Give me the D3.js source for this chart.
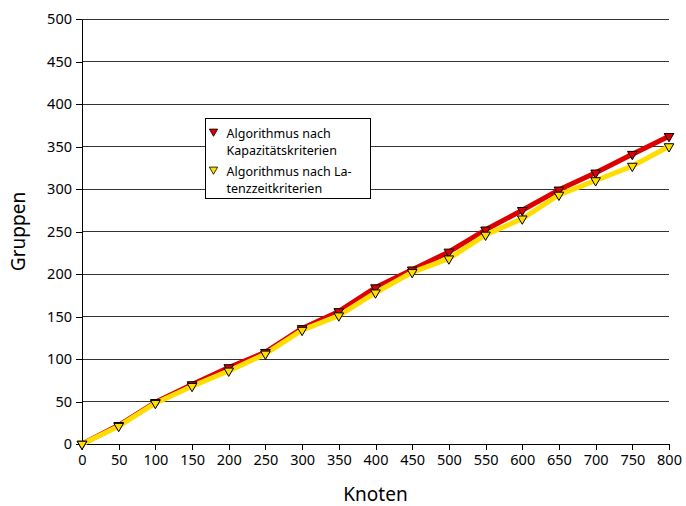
<!DOCTYPE html>
<html>
<head>
<meta charset="utf-8">
<script src="https://cdn.jsdelivr.net/npm/d3@7"></script>
<style>
  html, body { margin: 0; padding: 0; background: #fff; }
  svg { display: block; font-family: "Noto Sans", "DejaVu Sans", sans-serif; }
</style>
</head>
<body>
<svg id="chart" width="686" height="506"></svg>
<script>
// Anzahl der Knoten (x) und gebildete Gruppen (y) je Algorithmus
const knoten = [0, 50, 100, 150, 200, 250, 300, 350, 400, 450, 500, 550, 600, 650, 700, 750, 800];
const kapazitaet = [0, 22, 49, 70, 90, 108, 136, 156, 184, 205, 226, 252, 275, 299, 319, 341, 362];
const latenzzeit = [0, 21, 48, 68, 86, 106, 134, 151, 178, 202, 218, 246, 265, 293, 310, 327, 350];
const xTicks = [0, 50, 100, 150, 200, 250, 300, 350, 400, 450, 500, 550, 600, 650, 700, 750, 800];
const yTicks = [0, 50, 100, 150, 200, 250, 300, 350, 400, 450, 500];
const legendLines = [
  ["Algorithmus nach", "Kapazitätskriterien"],
  ["Algorithmus nach La-", "tenzzeitkriterien"]
];

const svg = d3.select("#chart");
const margin = { left: 82, right: 17, top: 19, bottom: 62 };
const W = 686, H = 506;

const x = d3.scaleLinear().domain([0, 800]).range([margin.left, W - margin.right]);
const y = d3.scaleLinear().domain([0, 500]).range([H - margin.bottom, margin.top]);

// Gitterlinien
svg.append("g")
  .selectAll("line")
  .data(yTicks.filter(d => d > 0))
  .join("line")
  .attr("x1", x(0)).attr("x2", x(800))
  .attr("y1", d => y(d)).attr("y2", d => y(d))
  .attr("stroke", "#333").attr("stroke-width", 1)
  .attr("shape-rendering", "crispEdges");

// Achsen
const xAxis = svg.append("g")
  .attr("transform", `translate(0,${y(0)})`)
  .call(d3.axisBottom(x).tickValues(xTicks).tickSize(6).tickSizeOuter(0).tickPadding(5));
const yAxis = svg.append("g")
  .attr("transform", `translate(${x(0)},0)`)
  .call(d3.axisLeft(y).tickValues(yTicks).tickSize(6).tickSizeOuter(0).tickPadding(4));
[xAxis, yAxis].forEach(g => {
  g.selectAll("text").attr("font-size", 14.5).attr("fill", "#000")
    .attr("font-family", "'Noto Sans', 'DejaVu Sans', sans-serif");
  g.selectAll("line, path").attr("stroke", "#000").attr("shape-rendering", "crispEdges");
});

// Achsentitel
svg.append("text")
  .attr("x", x(400)).attr("y", 501)
  .attr("text-anchor", "middle").attr("font-size", 19)
  .text("Knoten");
svg.append("text")
  .attr("transform", `translate(25,${y(250)}) rotate(-90)`)
  .attr("text-anchor", "middle").attr("font-size", 19)
  .text("Gruppen");

const line = d3.line().x((d, i) => x(knoten[i])).y(d => y(d));
const tri = d3.symbol().type(d3.symbolTriangle).size(40);

const series = [
  { values: kapazitaet, color: "#dd0000" },
  { values: latenzzeit, color: "#ffdd00" }
];

series.forEach(s => {
  svg.append("path")
    .datum(s.values)
    .attr("d", line)
    .attr("fill", "none")
    .attr("stroke", s.color)
    .attr("stroke-width", 5)
    .attr("stroke-linejoin", "round");
});

series.forEach(s => {
  svg.append("g")
    .selectAll("path")
    .data(s.values)
    .join("path")
    .attr("d", tri)
    .attr("transform", (d, i) => `translate(${x(knoten[i])},${y(d)}) rotate(180)`)
    .attr("fill", s.color)
    .attr("stroke", "#000")
    .attr("stroke-width", 1);
});

// Legende
const legend = svg.append("g").attr("transform", "translate(205.5,118.5)");
legend.append("rect")
  .attr("width", 165).attr("height", 80)
  .attr("fill", "#fff").attr("stroke", "#000").attr("stroke-width", 1);
legendLines.forEach((lines, k) => {
  const top = k === 0 ? 13 : 51;
  legend.append("path")
    .attr("d", d3.symbol().type(d3.symbolTriangle).size(30))
    .attr("transform", `translate(8,${top}) rotate(180)`)
    .attr("fill", series[k].color)
    .attr("stroke", "#000").attr("stroke-width", 0.8);
  lines.forEach((t, j) => {
    legend.append("text")
      .attr("x", 21).attr("y", top + 6.5 + j * 17)
      .attr("font-size", 12.5)
      .text(t);
  });
});
</script>
</body>
</html>
